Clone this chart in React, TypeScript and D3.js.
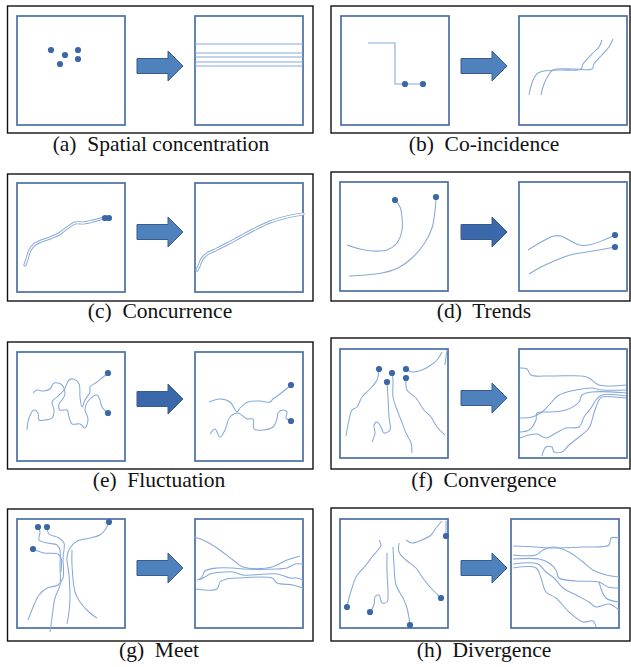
import React from 'react';
import * as d3 from 'd3';

type P = [number, number];

// ---------- captions ----------
const captions: string[] = [
  '(a)  Spatial concentration',
  '(b)  Co-incidence',
  '(c)  Concurrence',
  '(d)  Trends',
  '(e)  Fluctuation',
  '(f)  Convergence',
  '(g)  Meet',
  '(h)  Divergence',
];

// ---------- panel (a) ----------
const aLeftDots: P[] = [[34, 34], [48, 39], [61, 34], [43, 48], [61, 43]];
const aRightBands: number[] = [28, 37, 41, 46, 50];

// ---------- panel (b) ----------
const bLeftPath: P[] = [[27, 27], [54, 27], [54, 68], [82, 68]];
const bLeftDots: P[] = [[64, 68], [82, 68]];
const bRightLine1: P[] = [[10, 79], [12, 70], [15, 62], [19, 57], [25, 55], [40, 54], [62, 53], [64, 48], [75, 36], [80, 31], [83, 24]];
const bRightLine2: P[] = [[22, 79], [25, 68], [29, 60], [34, 54], [55, 53], [73, 53], [75, 48], [82, 40], [90, 31], [94, 23]];

// ---------- panel (c) ----------
const cLeftTrack: P[] = [[8, 82], [10, 76], [13, 67], [17, 62], [22, 59], [33, 55], [42, 51], [50, 45], [58, 40], [66, 40], [72, 39], [80, 37], [86, 35]];
const cLeftDots: P[] = [[88, 35], [92, 35]];
const cRightTrack: P[] = [[2, 87], [4, 83], [7, 76], [12, 71], [18, 68], [32, 61], [45, 54], [58, 47], [75, 39], [92, 34], [108, 31]];

// ---------- panel (d) ----------
const dLeftCurve1: P[] = [[55, 18], [60, 25], [62, 35], [62, 48], [57, 61], [47, 68], [33, 69], [20, 67], [7, 63]];
const dLeftCurve2: P[] = [[96, 15], [95, 29], [92, 46], [84, 62], [72, 76], [58, 86], [42, 91], [25, 93], [9, 94]];
const dLeftDots: P[] = [[55, 18], [96, 15]];
const dRightCurve1: P[] = [[9, 68], [24, 59], [35, 54], [42, 54], [50, 58], [60, 63], [70, 63], [85, 58], [96, 53]];
const dRightCurve2: P[] = [[10, 92], [22, 85], [33, 80], [51, 73], [74, 69], [96, 65]];
const dRightDots: P[] = [[96, 53], [96, 65]];

// ---------- panel (e) ----------
const eLeftPathA: P[] = [[16, 41], [20, 38], [26, 39], [33, 37], [37, 31], [45, 33], [48, 42], [45, 48], [42, 52], [43, 58], [50, 58], [52, 65], [55, 72], [63, 72], [68, 76], [71, 67], [68, 57], [73, 47], [80, 43], [83, 48], [85, 55], [91, 61]];
const eLeftPathB: P[] = [[10, 78], [12, 66], [17, 58], [21, 61], [22, 68], [28, 68], [35, 66], [37, 58], [35, 50], [40, 45], [47, 38], [52, 28], [56, 27], [62, 32], [63, 45], [65, 55], [68, 48], [73, 40], [73, 35], [80, 30], [85, 26], [91, 21]];
const eLeftDots: P[] = [[91, 21], [91, 61]];
const eRightPath1: P[] = [[14, 50], [25, 47], [35, 50], [42, 60], [45, 56], [53, 50], [65, 49], [75, 50], [78, 47], [85, 42], [96, 33]];
const eRightPath2: P[] = [[15, 82], [20, 77], [25, 85], [30, 78], [35, 65], [43, 61], [52, 67], [58, 67], [59, 77], [68, 78], [78, 75], [82, 67], [83, 61], [88, 58], [92, 60], [91, 66], [96, 69]];
const eRightDots: P[] = [[96, 33], [96, 69]];

// ---------- panel (f) ----------
const fLeftDots: P[] = [[39, 20], [52, 24], [47, 33], [66, 20], [66, 29]];
const fLeftLines: P[][] = [
  [[39, 20], [37, 31], [29, 41], [22, 48], [17, 58], [12, 61], [9, 71], [6, 87]],
  [[52, 24], [53, 31], [53, 48], [56, 58], [61, 71], [66, 84], [71, 94], [72, 104]],
  [[47, 33], [48, 48], [49, 68], [50, 81], [44, 84], [41, 78], [37, 73], [34, 76], [35, 84], [32, 93]],
  [[66, 29], [67, 41], [76, 49], [84, 61], [91, 68], [97, 78], [105, 86]],
  [[66, 20], [72, 23], [82, 21], [91, 16], [97, 11], [102, 3]],
  [[107, 1], [106, 8], [105, 16]],
];
const fRightLines: P[][] = [
  [[1, 19], [8, 20], [12, 26], [30, 27], [63, 27], [70, 29], [80, 36], [107, 36]],
  [[1, 69], [13, 68], [23, 63], [30, 56], [40, 46], [57, 41], [73, 39], [83, 41], [107, 41]],
  [[1, 83], [10, 81], [17, 71], [18, 64], [30, 63], [47, 61], [60, 53], [63, 46], [73, 43], [107, 44]],
  [[1, 89], [10, 86], [18, 85], [27, 89], [37, 84], [47, 79], [60, 78], [65, 68], [72, 59], [77, 51], [83, 46], [107, 47]],
  [[23, 107], [27, 98], [33, 98], [35, 103], [43, 103], [50, 96], [60, 88], [70, 79], [75, 64], [80, 51], [83, 48], [107, 49]],
];

// ---------- panel (g) ----------
const gLeftDots: P[] = [[21, 8], [30, 8], [16, 30], [92, 3]];
const gLeftLines: P[][] = [
  [[21, 8], [23, 13], [22, 21], [30, 24], [40, 26], [43, 31], [43, 46], [43, 66], [38, 79], [35, 99], [33, 113]],
  [[30, 8], [32, 15], [42, 19], [47, 24], [46, 39], [46, 59], [41, 66], [30, 69], [22, 76], [17, 86], [11, 101]],
  [[16, 30], [27, 34], [41, 35], [44, 39], [44, 53]],
  [[92, 3], [88, 11], [83, 16], [73, 19], [60, 22], [53, 29], [50, 38], [52, 56], [53, 79], [52, 93], [50, 105]],
  [[55, 31], [55, 46], [58, 73], [63, 83], [73, 94], [80, 99]],
];
const gRightLines: P[][] = [
  [[-1, 18], [8, 21], [22, 29], [38, 41], [48, 48], [72, 49], [82, 46], [92, 41], [105, 37]],
  [[2, 61], [7, 58], [10, 52], [22, 49], [38, 49], [48, 50], [82, 50], [92, 49], [100, 45], [108, 45]],
  [[4, 61], [10, 58], [15, 55], [38, 53], [48, 56], [82, 55], [95, 59], [102, 59], [108, 61]],
  [[1, 70], [22, 70], [25, 63], [32, 60], [45, 59], [77, 59], [82, 64], [98, 66], [108, 69]],
];

// ---------- panel (h) ----------
const hLeftDots: P[] = [[7, 88], [30, 93], [70, 106], [101, 79], [106, 17]];
const hLeftLines: P[][] = [
  [[39, 21], [41, 26], [32, 38], [26, 46], [16, 58], [12, 69], [9, 79], [7, 88]],
  [[47, 34], [47, 53], [48, 73], [47, 83], [42, 84], [39, 76], [35, 78], [34, 86], [30, 93]],
  [[53, 28], [54, 46], [56, 66], [63, 79], [67, 89], [70, 106]],
  [[59, 24], [59, 33], [66, 41], [76, 49], [82, 58], [91, 69], [101, 79]],
  [[66, 21], [72, 24], [82, 21], [91, 16], [96, 9], [102, 2]],
  [[106, 2], [106, 10], [106, 17]],
];
const hRightLines: P[][] = [
  [[2, 27], [25, 28], [38, 29], [72, 28], [98, 26], [100, 19], [108, 19]],
  [[2, 36], [25, 36], [32, 31], [42, 28], [58, 33], [72, 43], [82, 51], [95, 56], [108, 58]],
  [[2, 40], [28, 40], [38, 44], [45, 51], [48, 59], [65, 62], [88, 63], [97, 68], [108, 69]],
  [[2, 45], [27, 45], [35, 53], [43, 59], [52, 69], [65, 76], [78, 83], [85, 88], [98, 85], [108, 91]],
  [[2, 49], [25, 49], [30, 59], [35, 73], [45, 79], [58, 93], [72, 103], [82, 102], [85, 108]],
  [[88, 63], [95, 79], [108, 83]],
];

// ---------- styles ----------
const BOX = '#4a6fa3';
const LINE = '#86a9d8';
const DOT = '#3c67a6';
const ARROW_FILL = '#4f81bd';
const ARROW_DARK = '#3a68aa';
const ARROW_STROKE = '#385d8a';
const BOX_W = 108;
const BOX_H = 109;

type Content = {
  lines?: P[][];
  straight?: P[][];
  doubles?: P[][];
  dots?: P[];
};

type PanelLayout = {
  outer: [number, number, number, number];
  left: [number, number];
  right: [number, number];
  arrow: [number, number];
  caption: [number, number];
  dark?: boolean;
};

const layouts: PanelLayout[] = [
  { outer: [7.5, 6, 305.5, 127], left: [17, 16], right: [195, 16], arrow: [137, 66], caption: [161, 151] },
  { outer: [331, 6, 299, 127], left: [341, 16], right: [519, 16], arrow: [461, 66], caption: [484, 151] },
  { outer: [7.5, 174, 305.5, 127], left: [17, 183], right: [195, 183], arrow: [137, 232], caption: [160, 318] },
  { outer: [331, 172, 299, 129], left: [340, 182], right: [519, 182], arrow: [461, 232], caption: [484, 318], dark: true },
  { outer: [7.5, 342, 305.5, 127], left: [17, 352], right: [195, 352], arrow: [137, 399], caption: [159, 487], dark: true },
  { outer: [331, 338, 299, 131], left: [340, 349], right: [519, 349], arrow: [461, 398], caption: [484, 487] },
  { outer: [7.5, 509, 305.5, 132], left: [17, 519], right: [195, 519], arrow: [137, 568], caption: [159, 657] },
  { outer: [331, 508, 299, 133], left: [340, 519], right: [511, 519], arrow: [461, 568], caption: [484, 657] },
];

const contents: [Content, Content][] = [
  [
    { dots: aLeftDots },
    { straight: aRightBands.map((y) => [[0, y], [BOX_W, y]] as P[]) },
  ],
  [
    { straight: [bLeftPath], dots: bLeftDots },
    { lines: [bRightLine1, bRightLine2] },
  ],
  [
    { doubles: [cLeftTrack], dots: cLeftDots },
    { doubles: [cRightTrack] },
  ],
  [
    { lines: [dLeftCurve1, dLeftCurve2], dots: dLeftDots },
    { lines: [dRightCurve1, dRightCurve2], dots: dRightDots },
  ],
  [
    { lines: [eLeftPathA, eLeftPathB], dots: eLeftDots },
    { lines: [eRightPath1, eRightPath2], dots: eRightDots },
  ],
  [
    { lines: fLeftLines, dots: fLeftDots },
    { lines: fRightLines },
  ],
  [
    { lines: gLeftLines, dots: gLeftDots },
    { lines: gRightLines },
  ],
  [
    { lines: hLeftLines, dots: hLeftDots },
    { lines: hRightLines },
  ],
];

function Box({ x0, y0, content }: { x0: number; y0: number; content: Content }) {
  const sx = d3.scaleLinear().domain([0, BOX_W]).range([x0, x0 + BOX_W]);
  const sy = d3.scaleLinear().domain([0, BOX_H]).range([y0, y0 + BOX_H]);
  const smooth = d3.line<P>().x((d) => sx(d[0])).y((d) => sy(d[1])).curve(d3.curveCatmullRom.alpha(0.5));
  const straight = d3.line<P>().x((d) => sx(d[0])).y((d) => sy(d[1]));
  return (
    <g>
      <rect x={x0} y={y0} width={BOX_W} height={BOX_H} fill="#ffffff" stroke={BOX} strokeWidth={1.7} />
      {(content.straight || []).map((l, i) => (
        <path key={'s' + i} d={straight(l) || ''} fill="none" stroke={LINE} strokeWidth={1.1} />
      ))}
      {(content.doubles || []).map((l, i) => (
        <g key={'d' + i}>
          <path d={smooth(l) || ''} fill="none" stroke={LINE} strokeWidth={3.2} strokeLinecap="round" />
          <path d={smooth(l) || ''} fill="none" stroke="#ffffff" strokeWidth={1.3} strokeLinecap="round" />
        </g>
      ))}
      {(content.lines || []).map((l, i) => (
        <path key={'l' + i} d={smooth(l) || ''} fill="none" stroke={LINE} strokeWidth={1.05} />
      ))}
      {(content.dots || []).map((d, i) => (
        <circle key={'c' + i} cx={sx(d[0])} cy={sy(d[1])} r={3.1} fill={DOT} />
      ))}
    </g>
  );
}

function Arrow({ x, cy, dark }: { x: number; cy: number; dark?: boolean }) {
  const shaftLen = 31;
  const headLen = 15;
  const shaftHalf = 7.5;
  const headHalf = 15;
  const pts: P[] = [
    [x, cy - shaftHalf],
    [x + shaftLen, cy - shaftHalf],
    [x + shaftLen, cy - headHalf],
    [x + shaftLen + headLen, cy],
    [x + shaftLen, cy + headHalf],
    [x + shaftLen, cy + shaftHalf],
    [x, cy + shaftHalf],
  ];
  const d = (d3.line<P>()(pts) || '') + 'Z';
  return <path d={d} fill={dark ? ARROW_DARK : ARROW_FILL} stroke={ARROW_STROKE} strokeWidth={1} />;
}

export default function App() {
  return (
    <svg
      width={631}
      height={667}
      viewBox="0 0 631 667"
      style={{ position: 'absolute', left: 0, top: 0, background: '#ffffff' }}
    >
      <rect x={0} y={0} width={631} height={667} fill="#ffffff" />
      {layouts.map((L, i) => (
        <g key={i}>
          <rect
            x={L.outer[0]}
            y={L.outer[1]}
            width={L.outer[2]}
            height={L.outer[3]}
            fill="none"
            stroke="#111111"
            strokeWidth={1.4}
          />
          <Box x0={L.left[0]} y0={L.left[1]} content={contents[i][0]} />
          <Box x0={L.right[0]} y0={L.right[1]} content={contents[i][1]} />
          <Arrow x={L.arrow[0]} cy={L.arrow[1]} dark={L.dark} />
          <text
            x={L.caption[0]}
            y={L.caption[1]}
            textAnchor="middle"
            fontFamily="'Liberation Serif', 'Times New Roman', serif"
            fontSize={21.5}
            fill="#111111"
            style={{ whiteSpace: 'pre' }}
          >
            {captions[i]}
          </text>
        </g>
      ))}
    </svg>
  );
}
